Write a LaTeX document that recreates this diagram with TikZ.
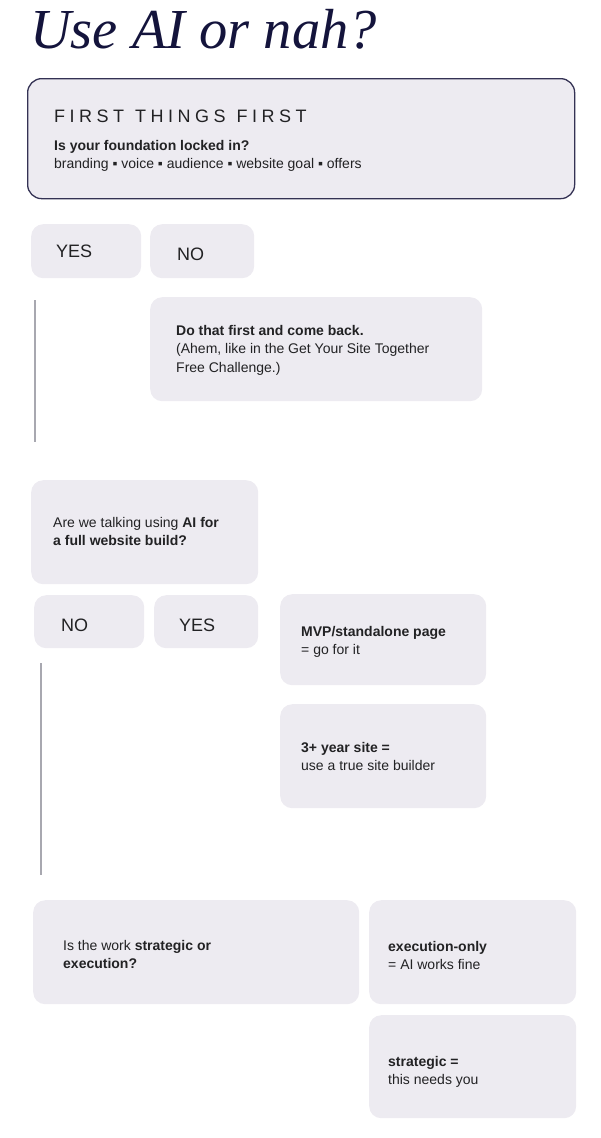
\documentclass[tikz,border=0pt]{standalone}
\usepackage{fontspec}
\setmainfont{Liberation Sans}
\newfontfamily\titlefont{Liberation Serif}
\newfontfamily\spacedfont[LetterSpace=25]{Liberation Sans}
\definecolor{inkblue}{RGB}{20,20,60}
\definecolor{cardfill}{RGB}{237,235,241}
\definecolor{cardline}{RGB}{52,50,84}
\definecolor{bodytext}{RGB}{34,34,36}
\definecolor{railgray}{RGB}{168,168,176}

\begin{document}
\begin{tikzpicture}[x=1pt, y=-1pt,
    card/.style={fill=cardfill, rounded corners=12pt, anchor=north west, inner sep=0pt},
    cardtext/.style={anchor=base west, align=left, inner sep=0pt, text=bodytext,
      font=\fontsize{14}{17.5}\selectfont},
    choicetext/.style={anchor=base west, inner sep=0pt, text=bodytext,
      font=\fontsize{18}{22}\selectfont},
    rail/.style={draw=railgray, line width=1.5pt}]
    \useasboundingbox (0,0) rectangle (600,1138);

    % title
    \node[anchor=base west, inner sep=0pt, text=inkblue,
      font=\titlefont\itshape\fontsize{56.5}{60}\selectfont] (title) at (30,48) {Use AI or nah?};

    % first things first (text nodes sit on their last line)
    \node[card, draw=cardline, line width=1.3pt, rounded corners=14pt,
      minimum width=547pt, minimum height=120pt] (foundation) at (27,78) {};
    \node[cardtext] (foundation text) at ([shift={(27,90)}]foundation.north west)
      {{\spacedfont\fontsize{18}{22}\selectfont FIRST\hspace{11pt}THINGS\hspace{11pt}FIRST}\\[10.5pt]
       \textbf{Is your foundation locked in?}\\
       branding ▪ voice ▪ audience ▪ website goal ▪ offers};
    \node[card, minimum width=110pt, minimum height=54pt] (yes1) at (31,224) {};
    \node[choicetext] (yes1 text) at ([shift={(25,33)}]yes1.north west) {YES};
    \node[card, minimum width=104pt, minimum height=54pt] (no1) at (150,224) {};
    \node[choicetext] (no1 text) at ([shift={(27,36)}]no1.north west) {NO};
    \coordinate (rail1 top) at (35,300);
    \coordinate (rail1 end) at (35,442);
    \draw[rail] (rail1 top) -- (rail1 end);
    \node[card, minimum width=332pt, minimum height=104pt] (comeback) at (150,297) {};
    \node[cardtext, font=\fontsize{14}{18.5}\selectfont] (comeback text)
      at ([shift={(26,75)}]comeback.north west)
      {\textbf{Do that first and come back.}\\
       (Ahem, like in the Get Your Site Together\\
       Free Challenge.)};

    % full website build
    \node[card, minimum width=227pt, minimum height=104pt] (fullbuild) at (31,480) {};
    \node[cardtext] (fullbuild text) at ([shift={(22,65)}]fullbuild.north west)
      {Are we talking using \textbf{AI for}\\
       \textbf{a full website build?}};
    \node[card, minimum width=110pt, minimum height=53pt] (no2) at (34,595) {};
    \node[choicetext] (no2 text) at ([shift={(27,36)}]no2.north west) {NO};
    \node[card, minimum width=104pt, minimum height=53pt] (yes2) at (154,595) {};
    \node[choicetext] (yes2 text) at ([shift={(25,36)}]yes2.north west) {YES};
    \node[card, minimum width=206pt, minimum height=91pt] (mvp) at (280,594) {};
    \node[cardtext] (mvp text) at ([shift={(21,60)}]mvp.north west)
      {\textbf{MVP/standalone page}\\
       = go for it};
    \node[card, minimum width=206pt, minimum height=104pt] (longsite) at (280,704) {};
    \node[cardtext, font=\fontsize{14}{18}\selectfont] (longsite text)
      at ([shift={(21,66)}]longsite.north west)
      {\textbf{3+ year site =}\\
       use a true site builder};
    \coordinate (rail2 top) at (41,663);
    \coordinate (rail2 end) at (41,875);
    \draw[rail] (rail2 top) -- (rail2 end);

    % strategic or execution
    \node[card, minimum width=326pt, minimum height=104pt] (worktype) at (33,900) {};
    \node[cardtext] (worktype text) at ([shift={(30,68)}]worktype.north west)
      {Is the work \textbf{strategic or}\\
       \textbf{execution?}};
    \node[card, minimum width=207pt, minimum height=104pt] (execonly) at (369,900) {};
    \node[cardtext] (execonly text) at ([shift={(19,69)}]execonly.north west)
      {\textbf{execution-only}\\
       = AI works fine};
    \node[card, minimum width=207pt, minimum height=103pt] (strategic) at (369,1015) {};
    \node[cardtext] (strategic text) at ([shift={(19,69)}]strategic.north west)
      {\textbf{strategic =}\\
       this needs you};
\end{tikzpicture}
\end{document}
